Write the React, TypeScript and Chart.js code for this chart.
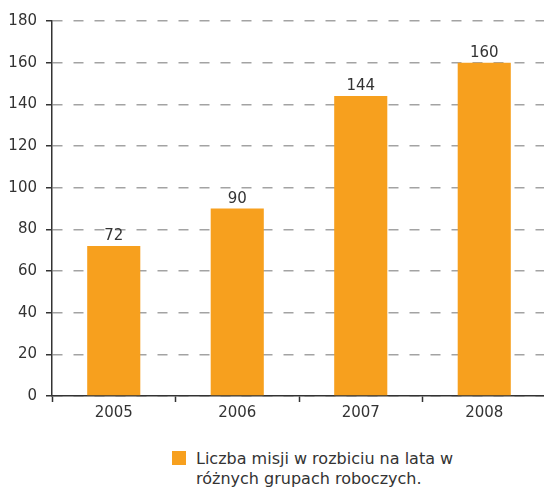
import React, { useEffect, useRef } from "react";
import { Chart, registerables } from "chart.js";

Chart.register(...registerables);

const categories = ["2005", "2006", "2007", "2008"];
const values = [72, 90, 144, 160];
const seriesLabel = ["Liczba misji w rozbiciu na lata w", "różnych grupach roboczych."];
const yTicks = [0, 20, 40, 60, 80, 100, 120, 140, 160, 180];

const ORANGE = "#F7A01E";
const TEXT = "#333333";
const FONT = '"DejaVu Sans", sans-serif';

const valueLabelPlugin = {
  id: "valueLabels",
  afterDatasetsDraw(chart: any) {
    const ctx = chart.ctx;
    const meta = chart.getDatasetMeta(0);
    ctx.save();
    ctx.font = `15px ${FONT}`;
    ctx.fillStyle = TEXT;
    ctx.textAlign = "center";
    ctx.textBaseline = "alphabetic";
    meta.data.forEach((bar: any, i: number) => {
      ctx.fillText(String(values[i]), bar.x, bar.y - 6);
    });
    ctx.restore();
  },
};

export default function App() {
  const ref = useRef<HTMLCanvasElement | null>(null);

  useEffect(() => {
    if (!ref.current) return;
    const chart = new Chart(ref.current, {
      type: "bar",
      data: {
        labels: categories,
        datasets: [
          {
            label: seriesLabel.join(" "),
            data: values,
            backgroundColor: ORANGE,
            borderWidth: 0,
            categoryPercentage: 1,
            barPercentage: 0.43,
          },
        ],
      },
      options: {
        responsive: false,
        animation: false,
        layout: { padding: { top: 21, left: 0, right: 0, bottom: 0 } },
        plugins: {
          legend: { display: false },
          tooltip: { enabled: false },
        },
        scales: {
          x: {
            afterFit: (s: any) => {
              s.height = 34;
            },
            grid: {
              display: true,
              drawOnChartArea: false,
              drawTicks: true,
              tickLength: 6,
              tickColor: "#333",
              tickWidth: 1.5,
              offset: true,
            },
            border: { display: true, color: "#333", width: 1.5 },
            ticks: {
              color: TEXT,
              font: { family: FONT, size: 15 },
              padding: 2,
            },
          },
          y: {
            min: 0,
            max: 180,
            afterFit: (s: any) => {
              s.width = 52;
            },
            afterBuildTicks: (s: any) => {
              s.ticks = yTicks.map((v) => ({ value: v }));
            },
            grid: {
              color: "#a3a3a3",
              lineWidth: 1.5,
              drawTicks: true,
              tickLength: 6,
              tickColor: "#333",
              tickWidth: 1.5,
              tickBorderDash: [],
            },
            border: { display: true, color: "#333", width: 1.5, dash: [10, 11] },
            ticks: {
              color: TEXT,
              font: { family: FONT, size: 15 },
              padding: 9,
            },
          },
        },
      },
      plugins: [valueLabelPlugin],
    });
    return () => chart.destroy();
  }, []);

  return (
    <div
      style={{
        position: "fixed",
        left: 0,
        top: 0,
        width: 544,
        height: 491,
        overflow: "hidden",
        background: "#fff",
      }}
    >
      <canvas ref={ref} width={546} height={430} style={{ display: "block" }} />
      <div
        style={{
          position: "absolute",
          left: 172,
          top: 451,
          display: "flex",
          alignItems: "flex-start",
          fontFamily: FONT,
          fontSize: 16,
          lineHeight: "20px",
          color: TEXT,
        }}
      >
        <div style={{ width: 14, height: 14, background: ORANGE, marginTop: 0, marginRight: 10, flexShrink: 0 }} />
        <div style={{ marginTop: -2, whiteSpace: "nowrap" }}>
          {seriesLabel.map((l, i) => (
            <div key={i}>{l}</div>
          ))}
        </div>
      </div>
    </div>
  );
}
